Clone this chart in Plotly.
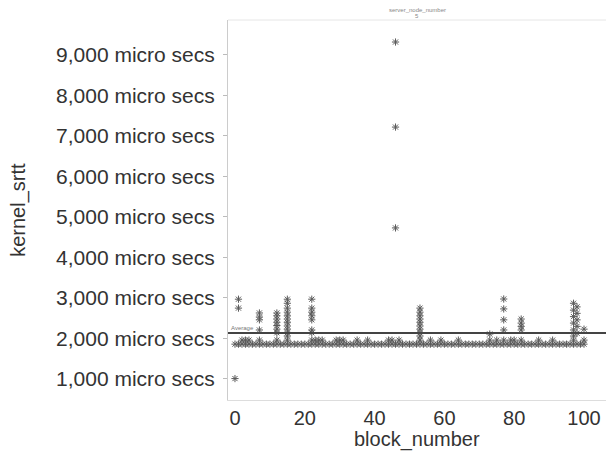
import numpy as np
import plotly.graph_objects as go

# ---- data ----
base_blocks = [0, 1, 2, 3, 4, 5, 6, 7, 8, 9, 10, 11, 12, 13, 14, 15, 16, 17, 18, 19,
               20, 21, 22, 23, 24, 25, 26, 27, 28, 29, 30, 31, 32, 33, 34, 35, 36, 37, 38, 39,
               40, 41, 42, 43, 44, 45, 46, 47, 48, 49, 50, 51, 52, 53, 54, 55, 56, 57, 58, 59,
               60, 61, 62, 63, 64, 65, 66, 67, 68, 69, 70, 71, 72, 73, 74, 75, 76, 77, 78, 79,
               80, 81, 82, 83, 84, 85, 86, 87, 88, 89, 90, 91, 92, 93, 94, 95, 96, 97, 98, 99, 100]
base_srtt = [1860, 1860, 1860, 1860, 1860, 1860, 1860, 1860, 1860, 1860, 1860, 1860, 1860, 1860,
             1860, 1860, 1860, 1860, 1860, 1860, 1860, 1860, 1860, 1860, 1860, 1860, 1860, 1860,
             1860, 1860, 1860, 1860, 1860, 1860, 1860, 1860, 1860, 1860, 1860, 1860, 1860, 1860,
             1860, 1860, 1860, 1860, 1860, 1860, 1860, 1860, 1860, 1860, 1860, 1860, 1860, 1860,
             1860, 1860, 1860, 1860, 1860, 1860, 1860, 1860, 1860, 1860, 1860, 1860, 1860, 1860,
             1860, 1860, 1860, 1860, 1860, 1860, 1860, 1860, 1860, 1860, 1860, 1860, 1860, 1860,
             1860, 1860, 1860, 1860, 1860, 1860, 1860, 1860, 1860, 1860, 1860, 1860, 1860, 1860,
             1860, 1860, 1860]

row2_blocks = [2, 3, 4, 7, 12, 15, 22, 23, 24, 25, 29, 30, 31, 35, 38, 44, 45, 47, 53, 56,
               59, 64, 73, 75, 77, 79, 80, 82, 87, 91, 97, 100]
row2_srtt = [1960, 1960, 1960, 1960, 1960, 1960, 1960, 1960, 1960, 1960, 1960, 1960, 1960, 1960,
             1960, 1960, 1960, 1960, 1960, 1960, 1960, 1960, 1960, 1960, 1960, 1960, 1960, 1960,
             1960, 1960, 1960, 1960]

upper_blocks = [0,
                1, 1,
                7, 7, 7, 7,
                12, 12, 12, 12, 12, 12, 12,
                15, 15, 15, 15, 15, 15, 15, 15, 15, 15, 15,
                22, 22, 22, 22, 22, 22, 22,
                46, 46, 46,
                53, 53, 53, 53, 53, 53, 53, 53, 53,
                73,
                77, 77, 77, 77,
                82, 82, 82, 82,
                97, 97, 97, 97, 97, 97,
                98, 98, 98, 98, 98,
                100]
upper_srtt = [1010,
              2970, 2750,
              2630, 2530, 2460, 2210,
              2630, 2560, 2480, 2400, 2320, 2230, 2140,
              2970, 2870, 2750, 2650, 2560, 2480, 2400, 2310, 2230, 2140, 2060,
              2970, 2750, 2650, 2560, 2460, 2210, 2140,
              9320, 7220, 4730,
              2750, 2650, 2560, 2480, 2400, 2310, 2230, 2140, 2060,
              2110,
              2975, 2730, 2460, 2210,
              2480, 2380, 2300, 2210,
              2870, 2700, 2540, 2380, 2210, 2060,
              2780, 2620, 2460, 2300, 2130,
              2230]

y_tickvals = [1000, 2000, 3000, 4000, 5000, 6000, 7000, 8000, 9000]
y_ticktext = ["1,000 micro secs", "2,000 micro secs", "3,000 micro secs", "4,000 micro secs",
              "5,000 micro secs", "6,000 micro secs", "7,000 micro secs", "8,000 micro secs",
              "9,000 micro secs"]
x_tickvals = [0, 20, 40, 60, 80, 100]

blocks = base_blocks + row2_blocks + upper_blocks
srtt = base_srtt + row2_srtt + upper_srtt
average = float(np.mean(srtt))

FONT = "Liberation Sans, Arial, sans-serif"

fig = go.Figure()
fig.add_trace(go.Scatter(
    x=blocks, y=srtt, mode="markers",
    marker=dict(symbol="asterisk-open", size=6, color="#5a5a5a",
                line=dict(color="#5a5a5a", width=1)),
    hoverinfo="x+y", showlegend=False,
))

fig.add_shape(type="line", xref="paper", x0=0, x1=1, yref="y", y0=average, y1=average,
              line=dict(color="#444444", width=2))
fig.add_annotation(xref="paper", x=0.003, yref="y", y=average, text="Average",
                   showarrow=False, xanchor="left", yanchor="bottom",
                   font=dict(size=6, color="#777777", family=FONT))

# header line and facet title
fig.add_shape(type="line", xref="paper", x0=0, x1=1, yref="paper", y0=1, y1=1,
              line=dict(color="#e6e6e6", width=1))
fig.add_annotation(xref="paper", x=0.5, yref="paper", y=1.0, yshift=15,
                   text="server_node_number", showarrow=False,
                   font=dict(size=6, color="#888888", family=FONT))
fig.add_annotation(xref="paper", x=0.5, yref="paper", y=1.0, yshift=9,
                   text="5", showarrow=False,
                   font=dict(size=6, color="#888888", family=FONT))

# axis titles
fig.add_annotation(xref="paper", x=-0.556, yref="paper", y=0.5, text="kernel_srtt",
                   textangle=-90, showarrow=False, xanchor="center", yanchor="middle",
                   font=dict(size=20, color="#333333", family=FONT))
fig.add_annotation(xref="paper", x=0.5, yref="paper", y=-0.105, text="block_number",
                   showarrow=False, xanchor="center", yanchor="middle",
                   font=dict(size=20, color="#333333", family=FONT))

fig.update_layout(
    width=607, height=453,
    margin=dict(l=228, r=1, t=20, b=53, autoexpand=False),
    paper_bgcolor="white", plot_bgcolor="white",
    font=dict(family=FONT, color="#333333"),
    xaxis=dict(range=[-2, 106.3], tickvals=x_tickvals, showgrid=False, zeroline=False,
               showline=True, linecolor="#dddddd", linewidth=1,
               ticks="", tickfont=dict(size=20, color="#333333")),
    yaxis=dict(range=[481, 9864], tickvals=y_tickvals, ticktext=y_ticktext,
               showgrid=False, zeroline=False,
               showline=True, linecolor="#cccccc", linewidth=1,
               ticks="outside", ticklen=4, tickcolor="#bbbbbb", ticklabelstandoff=4,
               tickfont=dict(size=21, color="#333333")),
)

fig.write_html("out.html", config={"displayModeBar": False},
               post_script="document.body.style.margin='0';")
